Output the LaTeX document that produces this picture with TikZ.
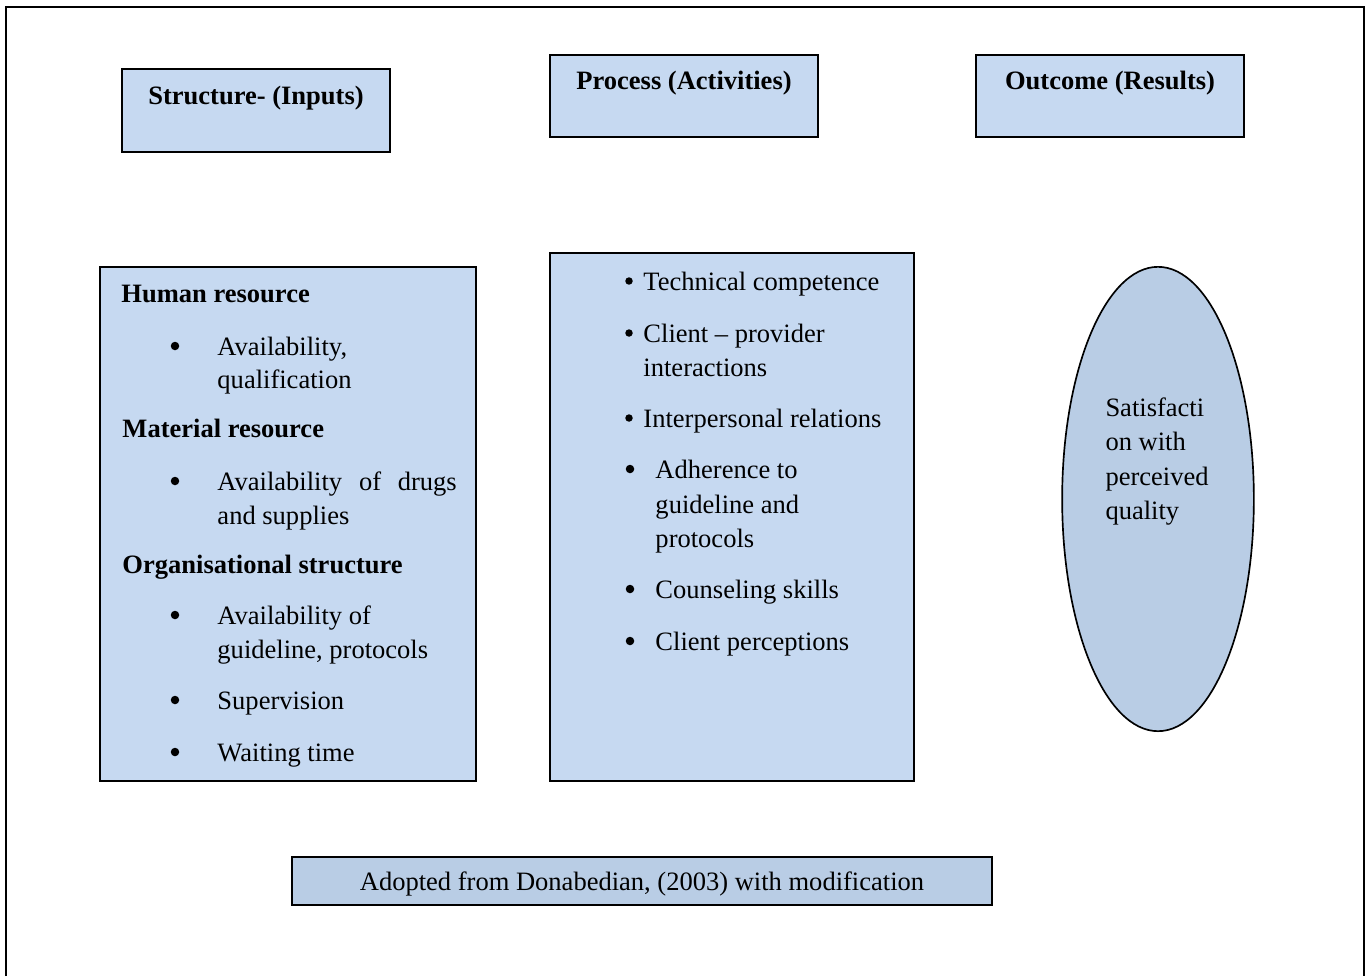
\documentclass[tikz,border=0pt]{standalone}
\usepackage{fontspec}
\setmainfont{Liberation Serif}
\usetikzlibrary{shapes.geometric}
\definecolor{PaleBlue}{HTML}{C6D9F1}
\definecolor{SteelBlue}{HTML}{B9CDE5}

\tikzset{
  panel/.style={draw, fill=PaleBlue, line width=0.7pt},
  txt/.style={anchor=base west, inner sep=0pt, font=\fontsize{11.1}{13}\selectfont},
  head/.style={anchor=center, inner sep=0pt, font=\fontsize{11.1}{13}\selectfont\bfseries},
  dot/.style={circle, fill, inner sep=0pt, minimum size=0.125cm},
  smalldot/.style={dot, minimum size=0.11cm},
}

\begin{document}
\begin{tikzpicture}[x=0.01471cm, y=-0.01471cm]
  \useasboundingbox (0,0) rectangle (1371,976);
  % frame, open at the bottom
  \draw[line width=1pt] (6,976) -- (6,7) -- (1364,7) -- (1364,976);

  % column headings
  \draw[panel] (122,69) rectangle (390,152);
  \node[head] (inputs) at (256,98) {Structure- (Inputs)};
  \draw[panel] (550,55) rectangle (818,137);
  \node[head] (activities) at (684,83) {Process (Activities)};
  \draw[panel] (976,55) rectangle (1244,137);
  \node[head] (results) at (1110,83) {Outcome (Results)};

  % structure
  \draw[panel] (100,267) rectangle (476,781);
  \node[txt, font=\fontsize{11.1}{13}\selectfont\bfseries] (human) at (121,302) {Human resource};
  \node[dot] (b1) at (175,346) {};
  \node[txt] (avail) at (217,355) {Availability,};
  \node[txt] (qualif) at (217,388) {qualification};
  \node[txt, font=\fontsize{11.1}{13}\selectfont\bfseries] (material) at (122,437) {Material resource};
  \node[dot] (b2) at (175,481) {};
  \node[txt] (drugs) at (217,490) {\makebox[3.52cm][s]{Availability of drugs}};
  \node[txt] (supplies) at (217,524) {and supplies};
  \node[txt, font=\fontsize{11.1}{13}\selectfont\bfseries] (organ) at (122,573) {Organisational structure};
  \node[dot] (b3) at (175,615) {};
  \node[txt] (availof) at (217,624) {Availability of};
  \node[txt] (guide) at (217,658) {guideline, protocols};
  \node[dot] (b4) at (175,700) {};
  \node[txt] (superv) at (217,709) {Supervision};
  \node[dot] (b5) at (175,752) {};
  \node[txt] (waiting) at (217,761) {Waiting time};

  % process
  \draw[panel] (550,253) rectangle (914,781);
  \node[smalldot] (p1) at (629,281) {};
  \node[txt] (tech) at (643,290) {Technical competence};
  \node[smalldot] (p2) at (629,333) {};
  \node[txt] (client) at (643,342) {Client -- provider};
  \node[txt] (interact) at (643,376) {interactions};
  \node[smalldot] (p3) at (629,418) {};
  \node[txt] (interp) at (643,427) {Interpersonal relations};
  \node[dot] (p4) at (630,469) {};
  \node[txt] (adher) at (655,478) {Adherence to};
  \node[txt] (guideand) at (655,513) {guideline and};
  \node[txt] (protoc) at (655,547) {protocols};
  \node[dot] (p5) at (630,589) {};
  \node[txt] (counsel) at (655,598) {Counseling skills};
  \node[dot] (p6) at (630,641) {};
  \node[txt] (percep) at (655,650) {Client perceptions};

  % outcome
  \node[ellipse, draw, fill=SteelBlue, line width=0.7pt, inner sep=0pt,
        minimum width=2.82cm, minimum height=6.83cm] (oval) at (1158,499) {};
  \node[txt] (sat1) at (1105,416) {Satisfacti};
  \node[txt] (sat2) at (1105,450) {on with};
  \node[txt] (sat3) at (1105,485) {perceived};
  \node[txt] (sat4) at (1105,519) {quality};

  % source note
  \draw[fill=SteelBlue, line width=0.8pt] (292,857) rectangle (992,905);
  \node[head, font=\fontsize{11.1}{13}\selectfont] (source) at (642,884) {Adopted from Donabedian, (2003) with modification};
\end{tikzpicture}
\end{document}
